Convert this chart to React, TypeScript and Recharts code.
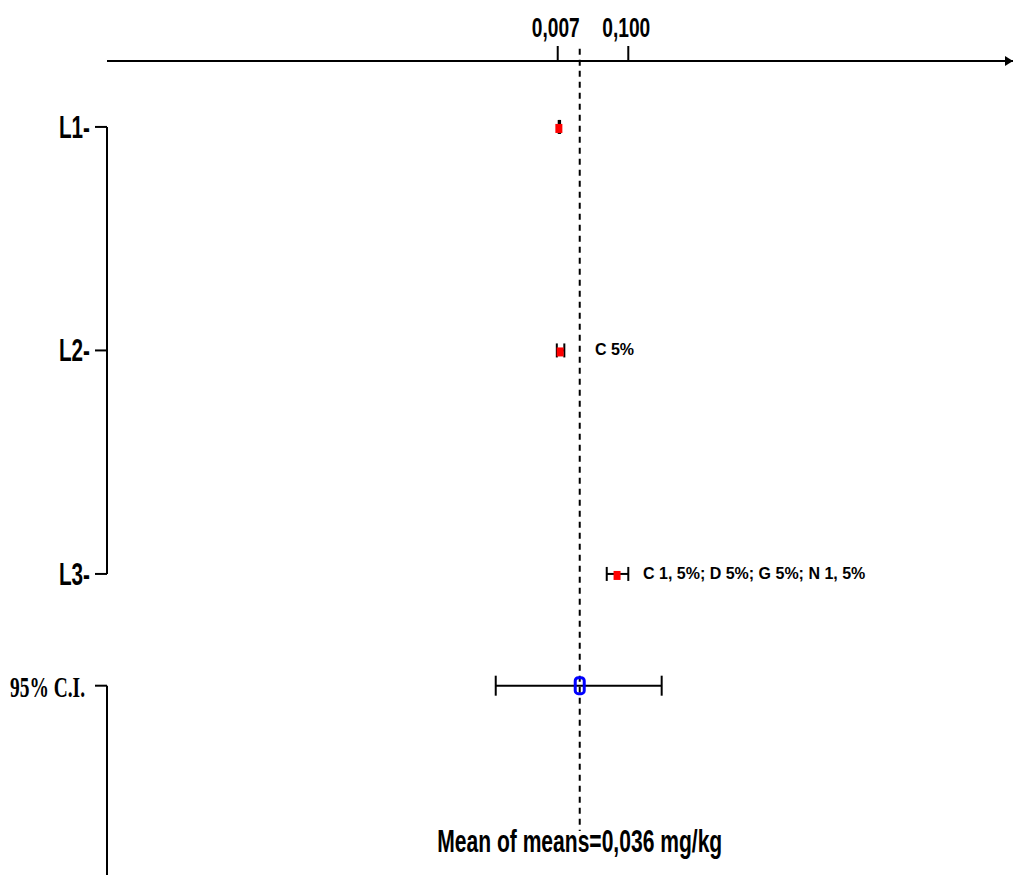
import React from 'react';
import {
  ScatterChart,
  Scatter,
  XAxis,
  YAxis,
  ErrorBar,
  ReferenceLine,
  ReferenceDot,
} from 'recharts';

// rows of the plot (top to bottom)
const rowLabels = ['L1-', 'L2-', 'L3-', '95% C.I.'];
const rowPositions = [0, 1, 2, 2.5];

// lab means with their interval (mg/kg)
const labMeans = [0.0085, 0.0102, 0.0852];
const labLows = [0.0083, 0.0058, 0.0716];
const labHighs = [0.0101, 0.0157, 0.1];

// mean of means and its 95% confidence interval
const meanOfMeans = 0.036;
const ciLow = -0.0747;
const ciHigh = 0.144;

// ticks of the top axis
const xTicks = [0.007, 0.1];

// notes written right of rows
const noteRows = [1, 2];
const noteX = [0.0561, 0.1194];
const noteTexts = ['C 5%', 'C 1, 5%; D 5%; G 5%; N 1, 5%'];
const meanLabel = 'Mean of means=0,036 mg/kg';

const X_MIN = -0.587;
const X_MAX = 0.607;
const Y_MIN = -0.295;
const Y_MAX = 3.347;

const labData = labMeans.map((m, i) => ({
  x: m,
  y: rowPositions[i],
  err: [m - labLows[i], labHighs[i] - m],
}));
const ciData = [{ x: meanOfMeans, y: rowPositions[3], err: [meanOfMeans - ciLow, ciHigh - meanOfMeans] }];
const noteData = noteTexts.map((t, i) => ({ x: noteX[i], y: noteRows[i], text: t }));
const meanLabelData = [{ x: meanOfMeans, y: 3.244, text: meanLabel }];

const narrow = '"Liberation Sans Narrow", "Arial Narrow", "Liberation Sans", sans-serif';

const YTick = (props: any) => {
  const { x, y, payload } = props;
  const idx = rowPositions.indexOf(payload.value);
  const label = rowLabels[idx];
  const isCI = idx === 3;
  return (
    <text
      x={isCI ? x - 6 : x - 1}
      y={y + 11}
      textAnchor="end"
      fontFamily={isCI ? '"Liberation Serif", serif' : narrow}
      fontWeight="bold"
      fontSize={isCI ? 30 : 31}
      fill="#000"
      textLength={isCI ? 75 : 31}
      lengthAdjust="spacingAndGlyphs"
    >
      {label}
    </text>
  );
};

const XTick = (props: any) => {
  const { x, y, payload } = props;
  return (
    <text
      x={x - 2}
      y={y}
      textAnchor="middle"
      fontFamily={narrow}
      fontWeight="bold"
      fontSize={28}
      fill="#000"
      textLength={48}
      lengthAdjust="spacingAndGlyphs"
    >
      {payload.value.toFixed(3).replace('.', ',')}
    </text>
  );
};

const RedSquare = (props: any) => {
  const { cx, cy } = props;
  return <rect x={cx - 3.5} y={cy - 3} width={7} height={9} fill="#ff0000" />;
};

const BlueMarker = (props: any) => {
  const { cx, cy } = props;
  return (
    <rect x={cx - 4.5} y={cy - 8} width={9} height={16} rx={3} fill="none" stroke="#0000ff" strokeWidth={3} />
  );
};

const NoteText = (props: any) => {
  const { cx, cy, payload } = props;
  return (
    <text x={cx} y={cy + 5} fontFamily='"Liberation Sans", Arial, sans-serif' fontWeight="bold" fontSize={16} fill="#000">
      {payload.text}
    </text>
  );
};

const MeanText = (props: any) => {
  const { cx, cy, payload } = props;
  return (
    <text
      x={cx}
      y={cy}
      textAnchor="middle"
      fontFamily={narrow}
      fontWeight="bold"
      fontSize={32}
      fill="#000"
      textLength={285}
      lengthAdjust="spacingAndGlyphs"
    >
      {payload.text}
    </text>
  );
};

const Arrow = (props: any) => {
  const { cx, cy } = props;
  return <polygon points={`${cx - 8},${cy - 5} ${cx},${cy} ${cx - 8},${cy + 5}`} fill="#000" />;
};

export default function App() {
  return (
    <div style={{ position: 'absolute', left: 0, top: 0, width: 1013, height: 875, background: '#fff' }}>
      <ScatterChart width={1013} height={875} margin={{ top: 0, right: 0, bottom: 0, left: 0 }}>
        <XAxis
          type="number"
          dataKey="x"
          orientation="top"
          domain={[X_MIN, X_MAX]}
          allowDataOverflow
          ticks={xTicks}
          height={61}
          tickSize={15}
          tickMargin={9}
          axisLine={{ stroke: '#000', strokeWidth: 2 }}
          tickLine={{ stroke: '#000', strokeWidth: 2 }}
          tick={<XTick />}
          interval={0}
        />
        <YAxis
          type="number"
          dataKey="y"
          domain={[Y_MIN, Y_MAX]}
          allowDataOverflow
          reversed
          ticks={rowPositions}
          width={107}
          tickSize={12}
          tickMargin={4}
          axisLine={false}
          tickLine={{ stroke: '#000', strokeWidth: 2 }}
          tick={<YTick />}
          interval={0}
        />
        <ReferenceLine
          segment={[{ x: X_MIN, y: rowPositions[0] }, { x: X_MIN, y: rowPositions[2] }]}
          stroke="#000"
          strokeWidth={2}
          ifOverflow="visible"
        />
        <ReferenceLine
          segment={[{ x: X_MIN, y: rowPositions[3] }, { x: X_MIN, y: Y_MAX }]}
          stroke="#000"
          strokeWidth={2}
          ifOverflow="visible"
        />
        <ReferenceLine
          segment={[{ x: meanOfMeans, y: -0.35 }, { x: meanOfMeans, y: 3.15 }]}
          stroke="#000"
          strokeWidth={2}
          strokeDasharray="6 5"
          ifOverflow="visible"
        />
        <ReferenceDot x={X_MAX} y={Y_MIN} r={0} shape={<Arrow />} ifOverflow="visible" />
        <Scatter data={labData} shape={<RedSquare />} isAnimationActive={false}>
          <ErrorBar dataKey="err" direction="x" width={7} stroke="#000" strokeWidth={2} isAnimationActive={false} />
        </Scatter>
        <Scatter data={ciData} shape={<BlueMarker />} isAnimationActive={false}>
          <ErrorBar dataKey="err" direction="x" width={10} stroke="#000" strokeWidth={2} isAnimationActive={false} />
        </Scatter>
        <Scatter data={noteData} shape={<NoteText />} isAnimationActive={false} />
        <Scatter data={meanLabelData} shape={<MeanText />} isAnimationActive={false} />
      </ScatterChart>
    </div>
  );
}
